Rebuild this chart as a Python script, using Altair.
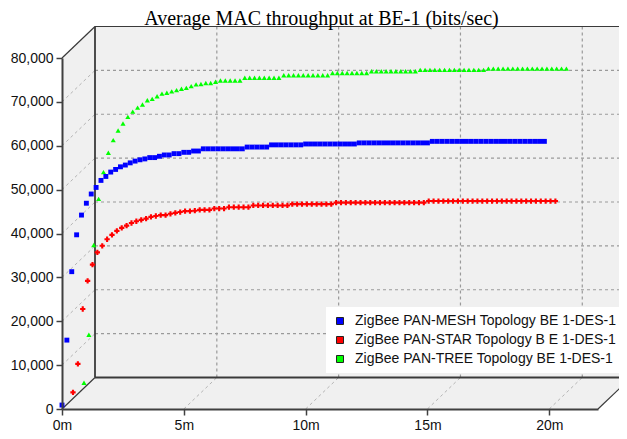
import altair as alt
import pandas as pd

TITLE = "Average MAC throughput at BE-1 (bits/sec)"
SERIES = ["ZigBee PAN-MESH Topology BE 1-DES-1",
          "ZigBee PAN-STAR Topology B E 1-DES-1",
          "ZigBee PAN-TREE Topology BE 1-DES-1"]
COLORS = ["#0000ff", "#ff0000", "#00ff00"]

# sample times (minutes), one value every 12 s
minutes = [round(0.2 * k, 1) for k in range(100)]

mesh = [900, 15700, 31300, 39700, 44200, 46900, 49000, 50500, 52100, 53000,
        54000, 54600, 55200, 55600, 56100, 56500, 56800, 57000, 57300, 57300,
        57600, 57900, 57900, 58200, 58200, 58500, 58500, 58800, 58800, 59300,
        59300, 59300, 59300, 59300, 59300, 59300, 59300, 59300, 59700, 59700,
        59700, 59700, 59700, 60200, 60200, 60200, 60200, 60200, 60200, 60200,
        60400, 60400, 60400, 60400, 60400, 60400, 60400, 60400, 60400, 60400,
        60400, 60650, 60650, 60650, 60650, 60650, 60650, 60650, 60650, 60650,
        60650, 60650, 60650, 60650, 60650, 60650, 61000, 61000, 61000, 61000,
        61000, 61000, 61000, 61000, 61000, 61000, 61000, 61000, 61000, 61000,
        61000, 61000, 61000, 61000, 61000, 61000, 61000, 61000, 61000, 61000]

star = [1400, 7900, 20400, 26800, 30500, 33300, 34800, 36300, 37300, 38200,
        38900, 39400, 40000, 40400, 40700, 41000, 41400, 41600, 41800, 41800,
        42100, 42300, 42500, 42700, 42700, 42800, 43000, 43000, 43000, 43300,
        43300, 43300, 43600, 43600, 43600, 43600, 43600, 44000, 44000, 44000,
        44000, 44000, 44000, 44000, 44000, 44300, 44300, 44300, 44300, 44300,
        44300, 44300, 44300, 44300, 44650, 44650, 44650, 44650, 44650, 44650,
        44650, 44650, 44650, 44650, 44650, 44650, 44650, 44650, 44650, 44650,
        44650, 44650, 44650, 45000, 45000, 45000, 45000, 45000, 45000, 45000,
        45000, 45000, 45000, 45000, 45000, 45000, 45000, 45000, 45000, 45000,
        45000, 45000, 45000, 45000, 45000, 45000, 45000, 45000, 45000, 45000]

tree = [1200, 12150, 32600, 43100, 49200, 53600, 56500, 58700, 60300, 61800,
        63000, 63900, 64600, 65600, 65900, 66500, 67100, 67300, 67600, 67900,
        68200, 68400, 68800, 69200, 69300, 69500, 69500, 69800, 70100, 70100,
        70100, 70100, 70100, 70700, 70700, 70700, 70700, 70700, 70700, 70700,
        70700, 71300, 71300, 71300, 71300, 71300, 71300, 71300, 71300, 71300,
        71300, 71800, 71800, 71800, 71800, 71800, 71800, 71800, 71800, 72200,
        72200, 72200, 72200, 72200, 72200, 72200, 72200, 72200, 72200, 72500,
        72500, 72500, 72500, 72500, 72500, 72500, 72500, 72500, 72500, 72500,
        72500, 72500, 72500, 72800, 72800, 72800, 72800, 72800, 72800, 72800,
        72800, 72800, 72800, 72800, 72800, 72800, 72800, 72800, 72800, 72800]

x_ticks = [0, 5, 10, 15, 20]
y_ticks = [0, 10000, 20000, 30000, 40000, 50000, 60000, 70000, 80000]
X_MAX = 22
Y_MAX = 80000

# ---- layout / style constants (pixels) ----
W, H = 536, 351          # front plane
DX, DY = 33, 31.5        # depth of the 3-D box
FONT = "Liberation Sans"

df = pd.concat([
    pd.DataFrame({"minute": minutes, "value": vals, "series": name})
    for name, vals in zip(SERIES, [mesh, star, tree])
], ignore_index=True)

x_scale = alt.Scale(domain=[0, X_MAX], nice=False, zero=False)
y_scale = alt.Scale(domain=[0, Y_MAX], nice=False)
x_axis = alt.Axis(values=x_ticks, labelExpr="datum.value + 'm'", title=None,
                  grid=False, tickSize=6, tickWidth=1.5, tickColor="#404040",
                  domainColor="#404040", domainWidth=2, labelPadding=3,
                  labelFont=FONT, labelFontSize=14, labelColor="#111",
                  labelFlush=False, labelOverlap=False, zindex=1)
y_axis = alt.Axis(values=y_ticks, labelExpr="format(datum.value, ',')",
                  title=None, grid=False,
                  tickSize=6, tickWidth=1.5, tickColor="#404040",
                  domainColor="#404040", domainWidth=2, labelPadding=3,
                  labelFont=FONT, labelFontSize=14, labelColor="#111",
                  labelOverlap=False, zindex=1)

def X(f):
    return alt.X(f, scale=x_scale, axis=x_axis)

def Y(f):
    return alt.Y(f, scale=y_scale, axis=y_axis)

# gray 3-D box (front, left wall, floor, back)
box = pd.DataFrame({"px": [0, DX, W, W + DX],
                    "top": [0, -DY, -DY, -DY],
                    "bot": [H, H, H, H - DY]})
bg = alt.Chart(box).mark_area(color="#f0f0f0").encode(
    x=alt.X("px:Q", scale=None, axis=None),
    y=alt.Y("top:Q", scale=None, axis=None),
    y2="bot:Q")

yt = pd.DataFrame({"v": y_ticks[1:-1]})
xt = pd.DataFrame({"t": x_ticks[1:]})

back_h = alt.Chart(yt).mark_rule(color="#9a9a9a", strokeDash=[3, 3], strokeWidth=1.2,
                                 yOffset=-DY).encode(
    y=Y("v:Q"), x=alt.value(DX), x2=alt.value(W + DX))
back_v = alt.Chart(xt).mark_rule(color="#9a9a9a", strokeDash=[3, 3], strokeWidth=1.2,
                                 xOffset=DX).encode(
    x=X("t:Q"), y=alt.value(-DY), y2=alt.value(H - DY))
wall_d = alt.Chart(yt).mark_rule(color="#b4b4b4", strokeDash=[3, 3], strokeWidth=1,
                                 y2Offset=-DY).encode(
    y=Y("v:Q"), y2="v:Q", x=alt.value(0), x2=alt.value(DX))
floor_d = alt.Chart(xt).mark_rule(color="#b4b4b4", strokeDash=[3, 3], strokeWidth=1,
                                  x2Offset=DX).encode(
    x=X("t:Q"), x2="t:Q", y=alt.value(H), y2=alt.value(H - DY))

thin = pd.DataFrame({"x": [0, 0, W, DX], "y": [0, H, H, -DY],
                     "x2": [DX, DX, W + DX, W + DX], "y2": [-DY, H - DY, H - DY, -DY]})
thick = pd.DataFrame({"x": [DX, DX], "y": [-DY, H - DY],
                      "x2": [DX, W + DX], "y2": [H - DY, H - DY]})

def frame(d, w):
    return alt.Chart(d).mark_rule(color="#3a3a3a", strokeWidth=w).encode(
        x=alt.X("x:Q", scale=None, axis=None), x2="x2:Q",
        y=alt.Y("y:Q", scale=None, axis=None), y2="y2:Q")

color = alt.Color("series:N",
                  scale=alt.Scale(domain=SERIES, range=COLORS),
                  legend=alt.Legend(orient="none", legendX=264, legendY=249,
                                    title=None, fillColor="white", padding=7,
                                    labelFont=FONT, labelFontSize=14,
                                    labelColor="#111", labelLimit=400,
                                    symbolType="square", symbolSize=49,
                                    symbolStrokeColor="#222",
                                    symbolStrokeWidth=1, rowPadding=5,
                                    labelOffset=8))

base = alt.Chart(df)
p_tree = base.transform_filter(alt.datum.series == SERIES[2]).mark_point(
    shape="triangle-up", filled=True, size=26, opacity=1,
    xOffset=2 * DX / 3, yOffset=-2 * DY / 3).encode(
    x=X("minute:Q"), y=Y("value:Q"), color=color)
p_star = base.transform_filter(alt.datum.series == SERIES[1]).mark_point(
    shape="cross", filled=True, size=28, opacity=1,
    xOffset=DX / 3, yOffset=-DY / 3).encode(
    x=X("minute:Q"), y=Y("value:Q"), color=color)
p_mesh = base.transform_filter(alt.datum.series == SERIES[0]).mark_point(
    shape="square", filled=True, size=24, opacity=1).encode(
    x=X("minute:Q"), y=Y("value:Q"), color=color)

title = alt.Chart(pd.DataFrame({"label": [TITLE]})).mark_text(
    font="Liberation Serif", fontSize=20, align="center", baseline="alphabetic",
    color="#000").encode(x=alt.value(259.5), y=alt.value(-33.5), text="label:N")

chart = alt.layer(bg, back_h, back_v, wall_d, floor_d, frame(thin, 1.2),
                  frame(thick, 1.8), p_tree, p_star, p_mesh, title).properties(
    width=W, height=H,
    padding={"left": 54, "top": 50, "right": 21, "bottom": 26},
    autosize=alt.AutoSizeParams(type="none"),
).configure_view(stroke=None)

chart.save("out.html", embed_options={"renderer": "svg", "actions": False})
